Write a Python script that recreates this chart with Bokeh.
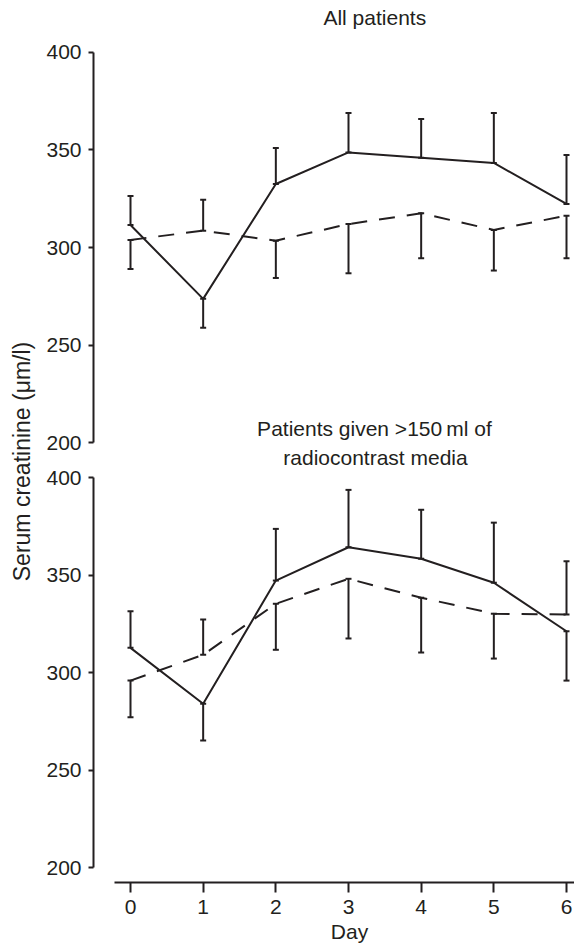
import math
from bokeh.plotting import figure
from bokeh.models import Range1d, LinearAxis, FixedTicker, Whisker, TeeHead, ColumnDataSource, Label
from bokeh.embed import file_html
from bokeh.resources import INLINE

# ---------------- data ----------------
days = [0, 1, 2, 3, 4, 5, 6]
y_ticks = [200, 250, 300, 350, 400]

# All patients
all_solid = [311.5, 273.7, 332.5, 348.7, 345.9, 343.3, 322.3]
all_solid_bar = [326.4, 258.9, 351.0, 368.9, 365.8, 368.9, 347.4]   # error-bar tips
all_dashed = [303.9, 308.6, 303.5, 312.0, 317.5, 309.0, 316.3]
all_dashed_bar = [289.0, 324.4, 284.4, 286.8, 294.5, 288.2, 294.5]

# Patients given >150 ml of radiocontrast media
big_solid = [312.8, 284.1, 347.3, 364.4, 358.5, 346.2, 321.3]
big_solid_bar = [331.6, 265.3, 373.8, 393.8, 383.6, 377.0, 296.0]
big_dashed = [296.0, 309.2, 335.4, 348.2, 338.5, 330.3, 329.9]
big_dashed_bar = [277.2, 327.3, 311.8, 317.6, 310.4, 307.3, 357.2]

title_top = "All patients"
title_bottom = ["Patients given >150\u2009ml of", "radiocontrast media"]
y_label = "Serum creatinine (\u03bcm/l)"
x_label = "Day"

# ---------------- layout constants (page pixels) ----------------
W, H = 574, 946
PX_DAY = (566.0 - 130.0) / 6.0
X0_PX = 130.0
XS = -X0_PX / PX_DAY
XE = XS + W / PX_DAY
BASE_FIX = 8.5   # renderer draws 'alphabetic' text this much lower


def make_range(v_hi, px_hi, v_lo, px_lo):
    k = (px_lo - px_hi) / (v_hi - v_lo)
    return Range1d(v_lo - (H - px_lo) / k, v_hi + px_hi / k), k


top_rng, k_top = make_range(400, 51.7, 200, 442.3)
bot_rng, k_bot = make_range(400, 477.3, 200, 867.3)


def y_at(rng, k, px):
    return rng.end - px / k


def x_at(px):
    return XS + px / PX_DAY


INK = "#231f20"
FONT = "Liberation Sans"
FS = "21px"

p = figure(width=W, height=H, x_range=Range1d(XS, XE), y_range=bot_rng,
           output_backend="svg", toolbar_location=None,
           x_axis_location=None, y_axis_location=None,
           min_border_left=0, min_border_right=0, min_border_top=0, min_border_bottom=0)
p.extra_y_ranges = {"top": top_rng}
p.outline_line_color = None
p.xgrid.visible = False
p.ygrid.visible = False
p.background_fill_color = "white"
p.border_fill_color = "white"


def style_axis(ax):
    ax.axis_line_color = INK
    ax.axis_line_width = 2
    ax.major_tick_line_color = INK
    ax.major_tick_line_width = 2
    ax.minor_tick_line_color = None
    ax.major_tick_in = 0
    ax.major_label_text_font = FONT
    ax.major_label_text_font_size = FS
    ax.major_label_text_color = INK


Y_AXIS_X = x_at(93)
for rname in ("default", "top"):
    ax = LinearAxis(y_range_name=rname, ticker=FixedTicker(ticks=y_ticks, minor_ticks=[]),
                    bounds=(200, 400), fixed_location=Y_AXIS_X)
    style_axis(ax)
    ax.major_tick_out = 5
    ax.major_label_standoff = 7
    p.add_layout(ax, "left")

xa = LinearAxis(ticker=FixedTicker(ticks=days, minor_ticks=[]), bounds=(x_at(114), XE),
                fixed_location=y_at(bot_rng, k_bot, 882.3))
style_axis(xa)
xa.major_tick_out = 10
xa.major_label_standoff = 7
p.add_layout(xa, "below")


def panel(solid, solid_bar, dashed, dashed_bar, rname):
    for mean, tip, dash in ((solid, solid_bar, "solid"), (dashed, dashed_bar, "16 12")):
        p.line(days, mean, line_color=INK, line_width=2, line_dash=dash, y_range_name=rname)
        src = ColumnDataSource(dict(x=days,
                                    lo=[min(a, b) for a, b in zip(mean, tip)],
                                    hi=[max(a, b) for a, b in zip(mean, tip)]))
        w = Whisker(source=src, base="x", lower="lo", upper="hi", dimension="height",
                    y_range_name=rname, line_color=INK, line_width=2,
                    upper_head=TeeHead(size=6, line_color=INK, line_width=2),
                    lower_head=TeeHead(size=6, line_color=INK, line_width=2))
        p.add_layout(w)


panel(all_solid, all_solid_bar, all_dashed, all_dashed_bar, "top")
panel(big_solid, big_solid_bar, big_dashed, big_dashed_bar, "default")


def add_text(txt, px_x, px_y, rng, k, rname="default", angle=0.0, baseline="alphabetic", size=FS):
    p.add_layout(Label(x=x_at(px_x), y=y_at(rng, k, px_y), y_range_name=rname, text=txt,
                       angle=angle, text_align="center", text_baseline=baseline,
                       text_font=FONT, text_font_size=size, text_color=INK))


add_text(title_top, 374.3, 25.0 - BASE_FIX, top_rng, k_top, "top")
add_text(title_bottom[0], 374.0, 436.7 - BASE_FIX, bot_rng, k_bot)
add_text(title_bottom[1], 375.0, 465.0 - BASE_FIX, bot_rng, k_bot)
add_text(x_label, 349.0, 939.0 - BASE_FIX, bot_rng, k_bot)
add_text(y_label, 21.5, 461.0, bot_rng, k_bot, angle=math.pi / 2, baseline="middle", size="23px")

open("out.html", "w").write(file_html(p, INLINE))
